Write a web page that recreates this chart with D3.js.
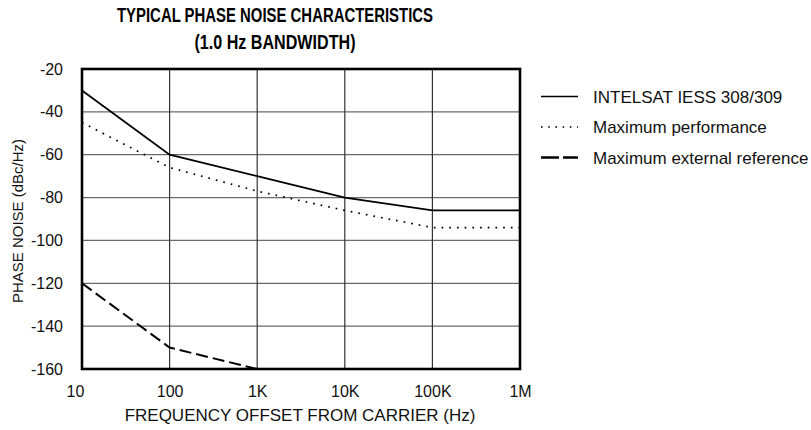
<!DOCTYPE html>
<html>
<head>
<meta charset="utf-8">
<script src="https://cdn.jsdelivr.net/npm/d3@7"></script>
<style>
  body { margin: 0; background: #fff; }
  svg { display: block; font-family: "Liberation Sans", Arial, Helvetica, sans-serif; }
</style>
</head>
<body>
<svg id="chart" width="811" height="430"></svg>
<script>
const freqs = [10, 100, 1000, 10000, 100000, 1000000];
const intelsat = [-30, -60, -70, -80, -86, -86];
const maxPerf = [-45, -66, -77, -86, -94, -94];
const extFreqs = [10, 100, 1000];
const extRef = [-120, -150, -160];
const xTickLabels = ["10", "100", "1K", "10K", "100K", "1M"];
const yTicks = [-20, -40, -60, -80, -100, -120, -140, -160];
const seriesNames = ["INTELSAT IESS 308/309", "Maximum performance", "Maximum external reference"];

const svg = d3.select("#chart");
const m = { left: 82, right: 520, top: 69, bottom: 369 };

const x = d3.scaleLog().domain([10, 1e6]).range([m.left, m.right]);
const y = d3.scaleLinear().domain([-160, -20]).range([m.bottom, m.top]);

// grid
svg.append("g").selectAll("line").data(yTicks).join("line")
  .attr("x1", m.left).attr("x2", m.right)
  .attr("y1", d => y(d)).attr("y2", d => y(d))
  .attr("stroke", "#6a6a6a").attr("stroke-width", 1.3);
svg.append("g").selectAll("line").data(freqs).join("line")
  .attr("x1", d => x(d)).attr("x2", d => x(d))
  .attr("y1", m.top).attr("y2", m.bottom)
  .attr("stroke", "#333").attr("stroke-width", 1.2);

// axes (labels only)
const xAxis = d3.axisBottom(x).tickValues(freqs).tickSize(0).tickPadding(17)
  .tickFormat((d, i) => xTickLabels[i]);
const gx = svg.append("g").attr("transform", `translate(0,${m.bottom})`).call(xAxis);
gx.select(".domain").remove();
gx.selectAll("text").attr("font-size", 16).attr("fill", "#111")
  .attr("font-family", "Liberation Sans, Arial, sans-serif")
  .attr("dx", (d, i) => i === 0 ? -7 : 0);

const yAxis = d3.axisLeft(y).tickValues(yTicks).tickSize(0).tickPadding(19)
  .tickFormat(d => String(d));
const gy = svg.append("g").attr("transform", `translate(${m.left},0)`).call(yAxis);
gy.select(".domain").remove();
gy.selectAll("text").attr("font-size", 16).attr("fill", "#111")
  .attr("font-family", "Liberation Sans, Arial, sans-serif");

// lines
const line = d3.line().x(d => x(d[0])).y(d => y(d[1]));
svg.append("path").datum(freqs.map((f, i) => [f, intelsat[i]]))
  .attr("d", line).attr("fill", "none").attr("stroke", "#000").attr("stroke-width", 1.8);
svg.append("path").datum(freqs.map((f, i) => [f, maxPerf[i]]))
  .attr("d", line).attr("fill", "none").attr("stroke", "#000").attr("stroke-width", 1.7)
  .attr("stroke-dasharray", "1.7,6");
svg.append("path").datum(extFreqs.map((f, i) => [f, extRef[i]]))
  .attr("d", line).attr("fill", "none").attr("stroke", "#000").attr("stroke-width", 2)
  .attr("stroke-dasharray", "12,5");

// frame
svg.append("rect").attr("x", m.left).attr("y", m.top)
  .attr("width", m.right - m.left).attr("height", m.bottom - m.top)
  .attr("fill", "none").attr("stroke", "#000").attr("stroke-width", 2.6);

// titles
svg.append("text").attr("x", 275).attr("y", 22).attr("text-anchor", "middle")
  .attr("font-family", "'Liberation Sans Narrow', 'Liberation Sans', Arial, sans-serif")
  .attr("font-size", 20).attr("font-weight", "bold")
  .attr("textLength", 316).attr("lengthAdjust", "spacingAndGlyphs")
  .text("TYPICAL PHASE NOISE CHARACTERISTICS");
svg.append("text").attr("x", 275).attr("y", 49).attr("text-anchor", "middle")
  .attr("font-family", "'Liberation Sans Narrow', 'Liberation Sans', Arial, sans-serif")
  .attr("font-size", 20).attr("font-weight", "bold")
  .attr("textLength", 161).attr("lengthAdjust", "spacingAndGlyphs")
  .text("(1.0 Hz BANDWIDTH)");

svg.append("text").attr("x", 300).attr("y", 421).attr("text-anchor", "middle")
  .attr("font-size", 17).attr("fill", "#111").text("FREQUENCY OFFSET FROM CARRIER (Hz)");
svg.append("text").attr("transform", `translate(23,221) rotate(-90)`)
  .attr("text-anchor", "middle").attr("font-size", 15).attr("fill", "#111")
  .text("PHASE NOISE (dBc/Hz)");

// legend
const styles = [
  { w: 1.6, dash: null },
  { w: 1.6, dash: "1.6,5.6" },
  { w: 2.4, dash: "18,4" }
];
const rows = svg.append("g").selectAll("g").data(seriesNames).join("g")
  .attr("transform", (d, i) => `translate(0,${96.5 + i * 30.5})`);
rows.append("line").attr("x1", 541).attr("x2", 578).attr("y1", 0).attr("y2", 0)
  .attr("stroke", "#000")
  .attr("stroke-width", (d, i) => styles[i].w)
  .attr("stroke-dasharray", (d, i) => styles[i].dash);
rows.append("text").attr("x", 593).attr("y", 6).attr("font-size", 17).attr("fill", "#111").text(d => d);
</script>
</body>
</html>
